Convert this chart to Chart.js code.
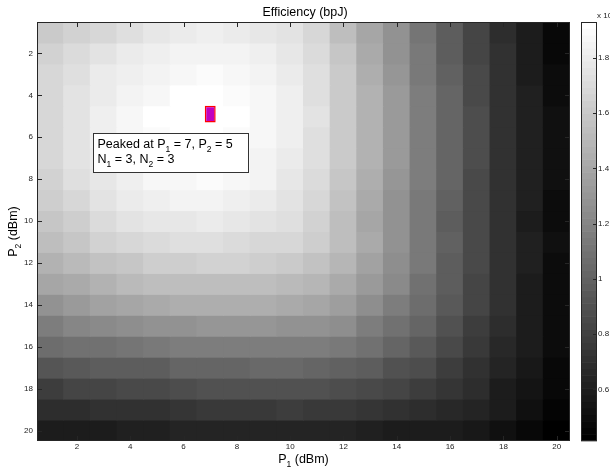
<!DOCTYPE html>
<html><head><meta charset="utf-8">
<script src="https://cdn.jsdelivr.net/npm/chart.js@4/dist/chart.umd.min.js"></script>
<style>html,body{margin:0;padding:0;background:#fff}#wrap{width:610px;height:470px}</style>
</head><body><div id="wrap"><canvas id="c" width="610" height="470"></canvas></div>
<script>
// P1 (dBm) categories (columns) and P2 (dBm) rows
const p1Labels = ['1','2','3','4','5','6','7','8','9','10','11','12','13','14','15','16','17','18','19','20'];
const p2Values = [1,2,3,4,5,6,7,8,9,10,11,12,13,14,15,16,17,18,19,20];
const xTickValues = [2,4,6,8,10,12,14,16,18,20];
const yTickValues = [2,4,6,8,10,12,14,16,18,20];
const cbTickValues = [0.6,0.8,1,1.2,1.4,1.6,1.8];

// Efficiency (bpJ, x10^?) for each P2 row, over P1 = 1..20
const effP2_01 = [1.60,1.66,1.69,1.73,1.77,1.79,1.82,1.80,1.78,1.75,1.67,1.54,1.40,1.28,1.12,0.96,0.82,0.68,0.58,0.47];
const effP2_02 = [1.65,1.71,1.75,1.79,1.82,1.84,1.85,1.84,1.82,1.77,1.70,1.58,1.42,1.29,1.13,0.98,0.83,0.70,0.59,0.48];
const effP2_03 = [1.67,1.73,1.79,1.83,1.85,1.88,1.90,1.88,1.84,1.80,1.72,1.60,1.45,1.31,1.14,1.00,0.84,0.71,0.60,0.50];
const effP2_04 = [1.69,1.75,1.81,1.85,1.88,1.91,1.92,1.90,1.87,1.82,1.73,1.62,1.47,1.32,1.15,1.01,0.85,0.72,0.62,0.50];
const effP2_05 = [1.69,1.76,1.82,1.87,1.91,1.92,1.93,1.91,1.88,1.82,1.75,1.62,1.47,1.33,1.16,1.02,0.87,0.72,0.62,0.51];
const effP2_06 = [1.69,1.75,1.82,1.87,1.90,1.92,1.92,1.90,1.87,1.82,1.73,1.62,1.47,1.33,1.16,1.02,0.87,0.72,0.62,0.51];
const effP2_07 = [1.67,1.75,1.80,1.85,1.89,1.90,1.90,1.89,1.85,1.80,1.72,1.60,1.46,1.32,1.16,1.01,0.87,0.72,0.62,0.51];
const effP2_08 = [1.65,1.72,1.78,1.83,1.87,1.88,1.89,1.87,1.84,1.78,1.71,1.59,1.45,1.31,1.15,1.01,0.85,0.72,0.62,0.51];
const effP2_09 = [1.63,1.69,1.75,1.79,1.82,1.84,1.84,1.83,1.81,1.76,1.69,1.57,1.42,1.29,1.14,1.00,0.85,0.71,0.61,0.50];
const effP2_10 = [1.58,1.64,1.70,1.75,1.77,1.78,1.79,1.78,1.76,1.72,1.65,1.53,1.40,1.27,1.13,0.98,0.84,0.71,0.60,0.50];
const effP2_11 = [1.54,1.59,1.65,1.67,1.71,1.72,1.72,1.71,1.69,1.67,1.63,1.53,1.41,1.28,1.14,1.00,0.85,0.72,0.62,0.51];
const effP2_12 = [1.47,1.52,1.56,1.59,1.63,1.64,1.65,1.65,1.63,1.60,1.57,1.48,1.38,1.26,1.13,0.98,0.84,0.71,0.61,0.50];
const effP2_13 = [1.40,1.42,1.46,1.51,1.53,1.54,1.54,1.54,1.53,1.52,1.50,1.42,1.33,1.22,1.09,0.96,0.83,0.71,0.60,0.50];
const effP2_14 = [1.29,1.33,1.37,1.40,1.41,1.44,1.44,1.44,1.44,1.41,1.40,1.34,1.26,1.17,1.06,0.94,0.82,0.70,0.60,0.50];
const effP2_15 = [1.17,1.21,1.23,1.26,1.28,1.29,1.31,1.31,1.31,1.29,1.28,1.25,1.17,1.10,1.01,0.90,0.79,0.69,0.59,0.50];
const effP2_16 = [1.06,1.08,1.10,1.12,1.14,1.15,1.16,1.17,1.17,1.16,1.15,1.13,1.08,1.01,0.94,0.85,0.76,0.66,0.58,0.49];
const effP2_17 = [0.93,0.95,0.96,0.97,0.98,1.01,1.01,1.02,1.03,1.03,1.02,1.00,0.96,0.91,0.87,0.79,0.72,0.64,0.57,0.48];
const effP2_18 = [0.79,0.82,0.83,0.84,0.85,0.88,0.89,0.90,0.90,0.90,0.89,0.88,0.85,0.82,0.78,0.73,0.68,0.60,0.54,0.47];
const effP2_19 = [0.68,0.69,0.70,0.71,0.72,0.73,0.75,0.76,0.76,0.77,0.76,0.75,0.73,0.71,0.69,0.66,0.63,0.58,0.52,0.46];
const effP2_20 = [0.58,0.59,0.60,0.62,0.62,0.63,0.63,0.64,0.64,0.64,0.64,0.63,0.62,0.60,0.59,0.58,0.56,0.52,0.47,0.43];

const peakP1 = 7, peakP2 = 5, peakN1 = 3, peakN2 = 3;

const effRows = [effP2_01,effP2_02,effP2_03,effP2_04,effP2_05,effP2_06,effP2_07,effP2_08,effP2_09,effP2_10,
                 effP2_11,effP2_12,effP2_13,effP2_14,effP2_15,effP2_16,effP2_17,effP2_18,effP2_19,effP2_20];

const FONT = "'Liberation Sans', Arial, Helvetica, sans-serif";
const CMIN = 0.413, CMAX = 1.93, NLEV = 64;
function grayLevel(v){
  let idx = Math.floor((v - CMIN) / (CMAX - CMIN) * NLEV);
  idx = Math.max(0, Math.min(NLEV - 1, idx));
  return Math.round(idx / (NLEV - 1) * 255);
}
function grayFor(v){ const g = grayLevel(v); return 'rgb(' + g + ',' + g + ',' + g + ')'; }

const datasets = effRows.map((row, r) => ({
  type: 'bar',
  label: 'P2 = ' + p2Values[r],
  data: row.map(() => [p2Values[r] - 0.5, p2Values[r] + 0.5]),
  backgroundColor: row.map(grayFor),
  borderWidth: 0,
  grouped: false,
  barPercentage: 1,
  categoryPercentage: 1,
  inflateAmount: 0.5,
  order: 2
}));
datasets.push({
  type: 'bar',
  label: 'peak',
  data: p1Labels.map(l => Number(l) === peakP1 ? [peakP2 - 0.5, peakP2 + 0.3] : null),
  backgroundColor: 'rgb(192,0,192)',
  borderColor: 'rgb(255,0,0)',
  borderWidth: 1.5,
  borderSkipped: false,
  grouped: false,
  barPercentage: 0.41,
  categoryPercentage: 1,
  inflateAmount: 0,
  order: 0
});

function drawRich(ctx, parts, x, y, size, align){
  const subSize = size * 0.68;
  let w = 0;
  parts.forEach(p => { ctx.font = (p.sub ? subSize : size) + 'px ' + FONT; w += ctx.measureText(p.t).width; });
  let cx = align === 'center' ? x - w / 2 : x;
  ctx.textAlign = 'left';
  ctx.textBaseline = 'alphabetic';
  parts.forEach(p => {
    ctx.font = (p.sub ? subSize : size) + 'px ' + FONT;
    ctx.fillText(p.t, cx, y + (p.sub ? size * 0.33 : 0));
    cx += ctx.measureText(p.t).width;
  });
}

const decorPlugin = {
  id: 'decor',
  afterDatasetsDraw(chart){
    const ctx = chart.ctx;
    const xs = chart.scales.x, ys = chart.scales.y, cb = chart.scales.cb;
    const a = chart.chartArea;
    ctx.save();
    // axes box
    ctx.strokeStyle = '#262626';
    ctx.lineWidth = 1;
    ctx.strokeRect(Math.round(a.left) + 0.5, Math.round(a.top) + 0.5, Math.round(a.right - a.left) - 1, Math.round(a.bottom - a.top) - 1);
    // inward ticks
    ctx.beginPath();
    const TL = 5;
    xTickValues.forEach(v => {
      const px = Math.round(xs.getPixelForValue(p1Labels.indexOf(String(v)))) + 0.5;
      ctx.moveTo(px, a.bottom); ctx.lineTo(px, a.bottom - TL);
      ctx.moveTo(px, a.top); ctx.lineTo(px, a.top + TL);
    });
    yTickValues.forEach(v => {
      const py = Math.round(ys.getPixelForValue(v)) + 0.5;
      ctx.moveTo(a.left, py); ctx.lineTo(a.left + TL, py);
      ctx.moveTo(a.right, py); ctx.lineTo(a.right - TL, py);
    });
    ctx.stroke();

    // colorbar
    const cbL = 581, cbW = 16;
    for (let k = 0; k < NLEV; k++){
      const v0 = CMIN + k * (CMAX - CMIN) / NLEV, v1 = CMIN + (k + 1) * (CMAX - CMIN) / NLEV;
      const y0 = cb.getPixelForValue(v0), y1 = cb.getPixelForValue(v1);
      const g = Math.round(k / (NLEV - 1) * 255);
      ctx.fillStyle = 'rgb(' + g + ',' + g + ',' + g + ')';
      ctx.fillRect(cbL, y1 - 0.3, cbW, y0 - y1 + 0.6);
    }
    ctx.strokeStyle = '#262626';
    ctx.strokeRect(cbL + 0.5, Math.round(cb.top) + 0.5, cbW - 1, Math.round(cb.bottom - cb.top) - 1);
    ctx.beginPath();
    cbTickValues.forEach(v => {
      const py = Math.round(cb.getPixelForValue(v)) + 0.5;
      ctx.moveTo(cbL + cbW, py); ctx.lineTo(cbL + cbW - 4, py);
    });
    ctx.stroke();
    ctx.fillStyle = '#222';
    ctx.font = '8px ' + FONT;
    ctx.textAlign = 'left';
    ctx.textBaseline = 'alphabetic';
    ctx.fillText('x 10', 597, 18);

    // annotation box
    const bx = Math.round(xs.getPixelForValue(1.59)) + 0.5;
    const by = Math.round(ys.getPixelForValue(5.78)) + 0.5;
    ctx.fillStyle = '#fff';
    ctx.fillRect(bx, by, 155, 39);
    ctx.strokeStyle = '#333';
    ctx.strokeRect(bx, by, 155, 39);
    ctx.fillStyle = '#000';
    drawRich(ctx, [{t:'Peaked at P'},{t:'1',sub:true},{t:' = ' + peakP1 + ', P'},{t:'2',sub:true},{t:' = ' + peakP2}], bx + 4, by + 14, 12.5, 'left');
    drawRich(ctx, [{t:'N'},{t:'1',sub:true},{t:' = ' + peakN1 + ', N'},{t:'2',sub:true},{t:' = ' + peakN2}], bx + 4, by + 29, 12.5, 'left');

    // axis titles
    drawRich(ctx, [{t:'P'},{t:'1',sub:true},{t:' (dBm)'}], (a.left + a.right) / 2, 463, 12.5, 'center');
    ctx.save();
    ctx.translate(17, (a.top + a.bottom) / 2);
    ctx.rotate(-Math.PI / 2);
    drawRich(ctx, [{t:'P'},{t:'2',sub:true},{t:' (dBm)'}], 0, 0, 12.5, 'center');
    ctx.restore();
    ctx.restore();
  }
};

new Chart(document.getElementById('c'), {
  type: 'bar',
  data: { labels: p1Labels, datasets: datasets },
  options: {
    responsive: false,
    animation: false,
    devicePixelRatio: 1,
    layout: { padding: 0 },
    plugins: {
      legend: { display: false },
      tooltip: { enabled: false },
      title: { display: true, text: 'Efficiency (bpJ)', color: '#000',
               font: { family: FONT, size: 12.5, weight: 'normal', lineHeight: 1.2 },
               padding: { top: 5, bottom: 2 } }
    },
    scales: {
      x: {
        type: 'category', offset: true,
        grid: { display: false, drawTicks: false }, border: { display: false },
        ticks: { autoSkip: false, maxRotation: 0, minRotation: 0, padding: 1, color: '#222',
                 font: { family: FONT, size: 8 },
                 callback: function(v){ const l = this.getLabelForValue(v); return xTickValues.includes(Number(l)) ? l : null; } },
        afterFit(s){ s.height = 29; }
      },
      y: {
        type: 'linear', position: 'left', reverse: true, min: 0.5, max: 20.5,
        grid: { display: false, drawTicks: false }, border: { display: false },
        ticks: { padding: 4, color: '#222', font: { family: FONT, size: 8 } },
        afterBuildTicks(s){ s.ticks = yTickValues.map(v => ({ value: v })); },
        afterFit(s){ s.width = 37; }
      },
      cb: {
        type: 'linear', position: 'right', min: CMIN, max: CMAX,
        grid: { display: false, drawTicks: true, tickLength: 28 }, border: { display: false },
        ticks: { padding: 0, color: '#222', font: { family: FONT, size: 8 }, callback: v => String(v) },
        afterBuildTicks(s){ s.ticks = cbTickValues.map(v => ({ value: v })); },
        afterFit(s){ s.width = 40; }
      }
    }
  },
  plugins: [decorPlugin]
});
</script>
</body></html>
